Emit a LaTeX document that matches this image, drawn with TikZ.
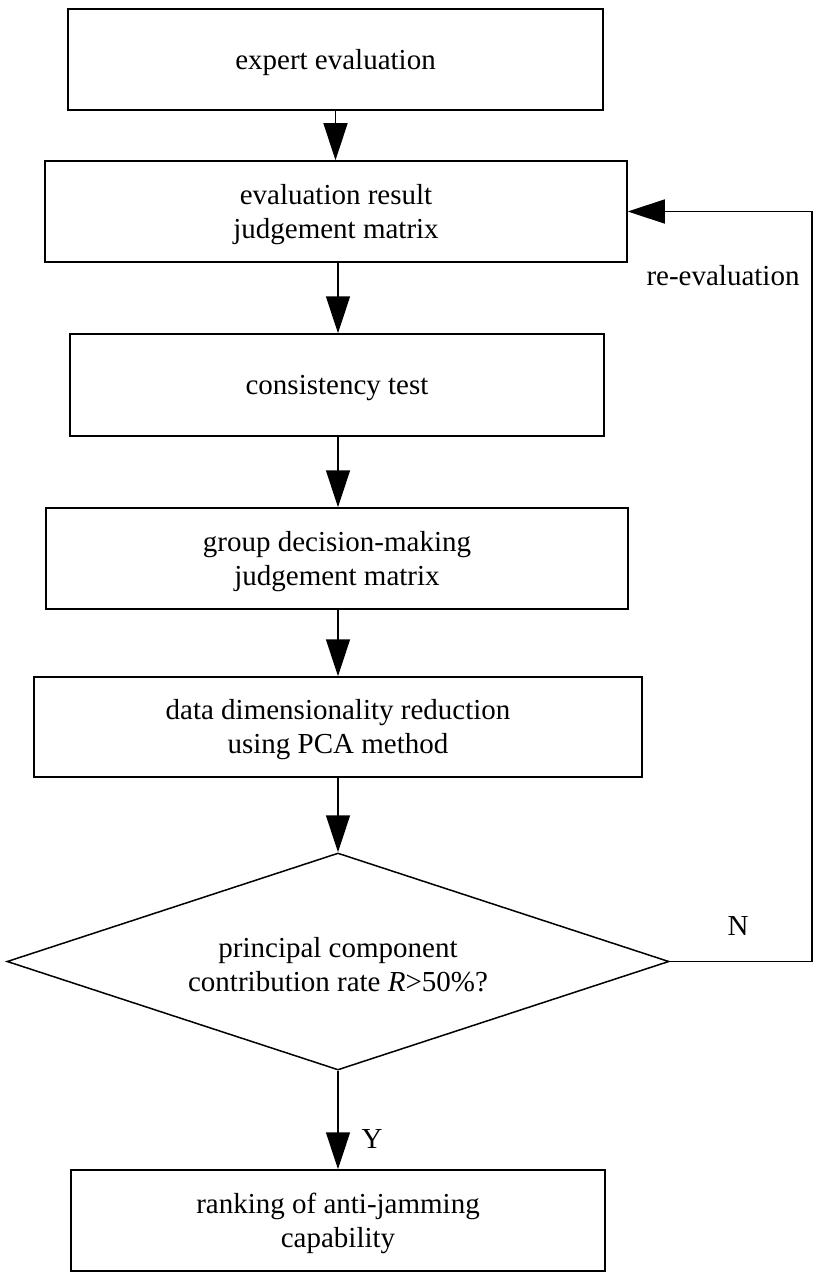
\documentclass[tikz,border=0pt]{standalone}
\usepackage{fontspec}
\setmainfont{Liberation Serif}
\usetikzlibrary{shapes.geometric,arrows.meta}
\begin{document}
\begin{tikzpicture}[x=1pt,y=-1pt,
  every node/.style={font=\fontsize{29}{34}\selectfont},
  box/.style={draw,line width=1.5pt,inner sep=0pt},
  txt/.style={align=center,inner sep=0pt,yshift=-3pt},
  conn/.style={line width=1.5pt,-{Triangle[length=37pt,width=24pt]}},
  lbl/.style={inner sep=0pt}]
\useasboundingbox (0,0) rectangle (823,1287);
\node[box,minimum width=535,minimum height=101,label={[txt]center:expert evaluation}] (b1) at (335.5,59.5) {};
\node[box,minimum width=582,minimum height=101,label={[txt]center:{evaluation result\\judgement matrix}}] (b2) at (336,211.5) {};
\node[box,minimum width=534,minimum height=102,label={[txt]center:consistency test}] (b3) at (337,385) {};
\node[box,minimum width=582,minimum height=101,label={[txt]center:{group decision-making\\judgement matrix}}] (b4) at (337,558.5) {};
\node[box,minimum width=608,minimum height=100,label={[txt]center:{data dimensionality reduction\\using PCA method}}] (b5) at (338,727) {};
\node[box,shape=diamond,aspect=3.05,minimum width=662,minimum height=217,label={[txt]center:{principal component\\contribution rate \textit{R}>50\%?}}] (d) at (338,961.5) {};
\node[box,minimum width=534,minimum height=101,label={[txt]center:{ranking of anti-jamming\\capability}}] (b6) at (338,1220.5) {};
\coordinate (fr) at (812,961.5);
\coordinate (ft) at (812,211.5);
\draw[conn] (b1.south) -- (b1.south |- b2.north);
\draw[conn] (b2.south -| d.north) -- (d.north |- b3.north);
\draw[conn] (b3.south -| d.north) -- (d.north |- b4.north);
\draw[conn] (b4.south -| d.north) -- (d.north |- b5.north);
\draw[conn] (b5.south -| d.north) -- (d.north);
\draw[conn] (d.south) -- (d.south |- b6.north);
\draw[conn] (d.east) -- (fr) -- (ft) -- (b2.east);
\node[lbl] (reeval) at (723,276) {re-evaluation};
\node[lbl] (nlab) at (738,926) {N};
\node[lbl] (ylab) at (372,1139) {Y};
\end{tikzpicture}
\end{document}
